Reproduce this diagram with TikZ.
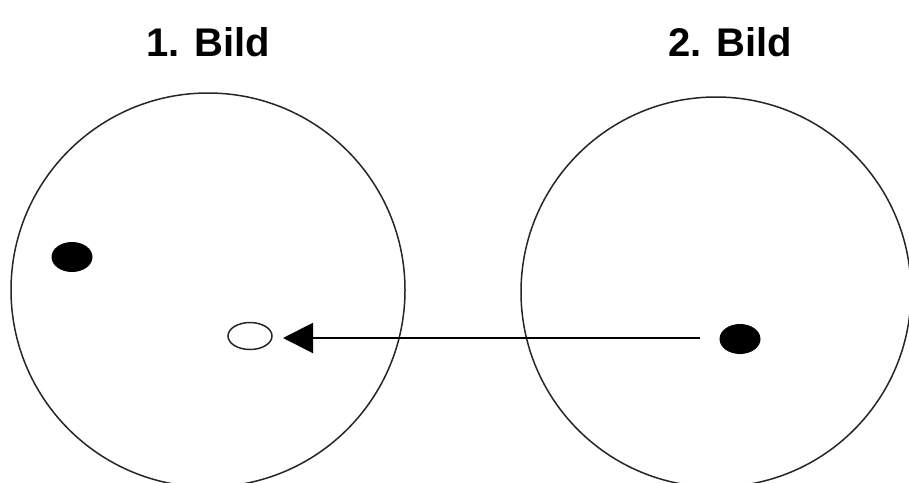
\documentclass[tikz,border=0pt]{standalone}
\usepackage{fontspec}
\setmainfont{Liberation Sans}
\usetikzlibrary{arrows.meta,shapes.geometric}
\begin{document}
\begin{tikzpicture}[x=1pt,y=-1pt,
  ring/.style={draw=black!85, line width=1.5pt},
  spot/.style={ellipse, fill=black, minimum width=41pt, minimum height=30pt, inner sep=0pt},
  hollow/.style={ellipse, draw=black!85, line width=1.5pt, fill=white, minimum width=44pt, minimum height=27pt, inner sep=0pt},
  title/.style={font=\bfseries\fontsize{40}{44}\selectfont, inner sep=0pt},
  move/.style={-{Triangle[length=30pt,width=30pt]}, line width=2pt}]
\useasboundingbox (0,0) rectangle (909,482);
\fill[white] (0,0) rectangle (909,482);
\begin{scope}
\clip (0,0) rectangle (909,482);
\draw[ring] (208,290) circle[radius=197];
\draw[ring] (716,292) circle[radius=195];
\end{scope}
\node[title] (t1) at (208,42) {1. Bild};
\node[title] (t2) at (730,42) {2. Bild};
\node[spot] (a) at (72,257) {};
\node[hollow] (b) at (250,336) {};
\node[spot] (c) at (740,339) {};
\coordinate (s) at (700,338);
\coordinate (e) at (283,338);
\draw[move] (s) -- (e);
\end{tikzpicture}
\end{document}
